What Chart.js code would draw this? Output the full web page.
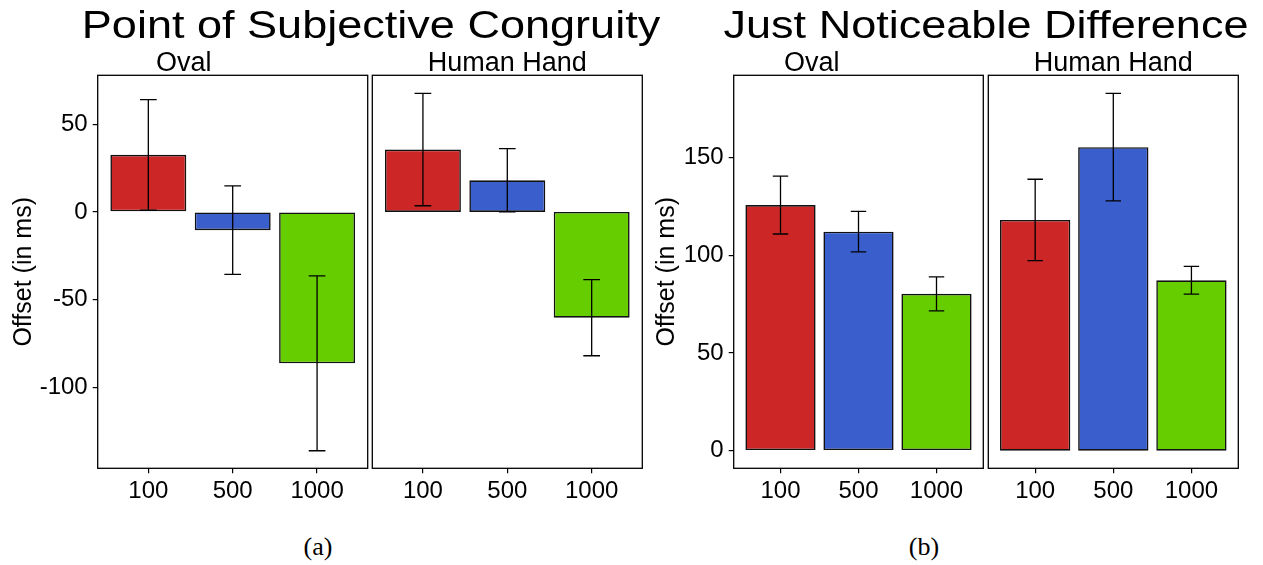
<!DOCTYPE html>
<html>
<head>
<meta charset="utf-8">
<script src="https://cdn.jsdelivr.net/npm/chart.js@4/dist/chart.umd.min.js"></script>
<style>
  body { margin: 0; background: #fff; width: 1263px; height: 565px; position: relative; overflow: hidden; font-family: "Liberation Sans", Arial, sans-serif; }
  canvas { position: absolute; top: 0; }
  .big { position: absolute; top: 5px; width: 600px; text-align: center; font-size: 39px; line-height: 39px; white-space: nowrap; color: #000; transform: scaleX(1.155); transform-origin: center; }
  .tag { position: absolute; top: 534px; width: 60px; text-align: center; font-family: "Liberation Serif", "Times New Roman", serif; font-size: 26px; line-height: 26px; color: #000; }
</style>
</head>
<body>
<canvas id="c1" width="369" height="520" style="left:0px"></canvas>
<canvas id="c2" width="273" height="520" style="left:371px"></canvas>
<canvas id="c3" width="345" height="520" style="left:640px"></canvas>
<canvas id="c4" width="253" height="520" style="left:987px"></canvas>
<div class="big" style="left:71px">Point of Subjective Congruity</div>
<div class="big" style="left:686px">Just Noticeable Difference</div>
<div class="tag" style="left:288px">(a)</div>
<div class="tag" style="left:894px">(b)</div>
<script>
// stimulus onset asynchrony levels
const sizes = ['100', '500', '1000'];
const barColors = ['#CD2626', '#3A5FCD', '#66CD00'];

// point of subjective congruity (mean, error half-width)
const pscOval = [32.5, -10.4, -86.2];
const pscOvalErr = [31.5, 25.2, 49.8];
const pscHand = [35.5, 18, -60.2];
const pscHandErr = [32, 18, 21.7];

// just noticeable difference
const jndOval = [125.7, 112.1, 80.3];
const jndOvalErr = [14.8, 10.4, 8.7];
const jndHand = [118.1, 155.3, 87.2];
const jndHandErr = [20.8, 27.5, 7.1];

const pscTicks = [-100, -50, 0, 50];
const jndTicks = [0, 50, 100, 150];

Chart.defaults.font.family = '"Liberation Sans", Arial, sans-serif';
Chart.defaults.color = '#000';

// error bars drawn from the dataset's err array through the y scale
const errorBars = {
  id: 'errorBars',
  afterDatasetsDraw: function(chart) {
    var ctx = chart.ctx;
    var y = chart.scales.y;
    var ds = chart.data.datasets[0];
    var meta = chart.getDatasetMeta(0);
    ctx.save();
    ctx.strokeStyle = '#000';
    ctx.lineWidth = 1.3;
    meta.data.forEach(function(bar, i) {
      var v = ds.data[i].y, e = ds.err[i];
      var top = y.getPixelForValue(v + e), bot = y.getPixelForValue(v - e);
      var w = bar.width * 0.11;
      ctx.beginPath();
      ctx.moveTo(bar.x, top); ctx.lineTo(bar.x, bot);
      ctx.moveTo(bar.x - w, top); ctx.lineTo(bar.x + w, top);
      ctx.moveTo(bar.x - w, bot); ctx.lineTo(bar.x + w, bot);
      ctx.stroke();
    });
    ctx.restore();
  }
};

// full panel border like ggplot facets
const panelBox = {
  id: 'panelBox',
  afterDraw: function(chart) {
    var a = chart.chartArea, ctx = chart.ctx;
    ctx.save();
    ctx.strokeStyle = '#000';
    ctx.lineWidth = 1.3;
    ctx.strokeRect(a.left, a.top, a.right - a.left, a.bottom - a.top);
    ctx.restore();
  }
};

function panel(id, strip, values, errs, yMin, yMax, yTicks, yAxis, pad) {
  return new Chart(document.getElementById(id), {
    type: 'bar',
    data: {
      datasets: [{
        data: values.map(function(v, i) { return {x: i, y: v}; }),
        err: errs,
        backgroundColor: barColors,
        borderColor: '#111',
        borderWidth: 1.6,
        borderSkipped: false,
        categoryPercentage: 1,
        barPercentage: 0.9
      }]
    },
    options: {
      responsive: false,
      animation: false,
      layout: { padding: { left: pad[0], right: pad[1], top: 0, bottom: 0 } },
      plugins: {
        legend: { display: false },
        tooltip: { enabled: false },
        title: {
          display: true, text: strip, color: '#000',
          font: { size: 27, weight: 'normal', lineHeight: 1 },
          padding: { top: 50.5, bottom: -2.2 }
        }
      },
      scales: {
        x: {
          type: 'linear', min: -0.6, max: 2.6, offset: false,
          afterBuildTicks: function(s) { s.ticks = sizes.map(function(c, i) { return {value: i}; }); },
          afterFit: function(s) { s.height = 51.7; },
          ticks: { callback: function(v) { return sizes[v]; }, font: { size: 24 }, padding: 4, maxRotation: 0, autoSkip: false },
          grid: { drawOnChartArea: false, tickLength: 5, color: '#000', lineWidth: 1.2, offset: false },
          border: { display: false }
        },
        y: {
          display: yAxis !== null, min: yMin, max: yMax,
          afterBuildTicks: function(s) { s.ticks = yTicks.map(function(v) { return {value: v}; }); },
          afterFit: function(s) { if (yAxis) s.width = yAxis.width; },
          ticks: { callback: function(v) { return String(v); }, font: { size: 24 }, padding: 5 },
          grid: { drawOnChartArea: false, tickLength: 5, color: '#000', lineWidth: 1.2 },
          border: { display: false },
          title: {
            display: true, text: 'Offset (in ms)', color: '#000',
            font: { size: 25 }, padding: { top: yAxis ? yAxis.titleOff : 0, bottom: 0 }
          }
        }
      }
    },
    plugins: [errorBars, panelBox]
  });
}

panel('c1', 'Oval', pscOval, pscOvalErr, -146, 77.8, pscTicks, { width: 97.7, titleOff: 9 }, [0, 1.3]);
panel('c2', 'Human Hand', pscHand, pscHandErr, -146, 77.8, pscTicks, null, [1.3, 1.7]);
panel('c3', 'Oval', jndOval, jndOvalErr, -9, 192.1, jndTicks, { width: 93.7, titleOff: 12.5 }, [0, 1.7]);
panel('c4', 'Human Hand', jndHand, jndHandErr, -9, 192.1, jndTicks, null, [1.3, 1.7]);
</script>
</body>
</html>
